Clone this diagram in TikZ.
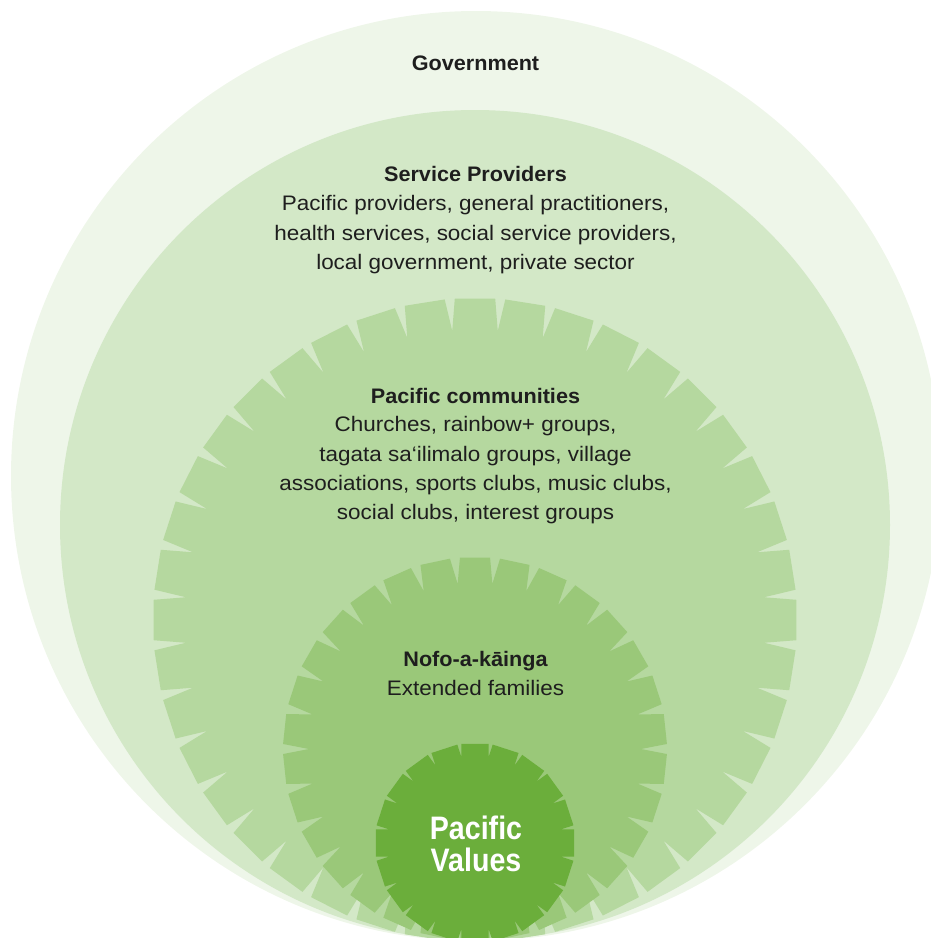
\documentclass[tikz,border=0pt]{standalone}
\usepackage{fontspec}
\setmainfont{Liberation Sans}
\newfontfamily\bodyfont{Liberation Sans}[FakeStretch=1.07]
\newfontfamily\headfont{Liberation Sans}[FakeStretch=1.03]
\newfontfamily\valfont{Liberation Sans}[FakeStretch=0.88]
\definecolor{govc}{HTML}{EEF6E9}
\definecolor{svcc}{HTML}{D3E8C7}
\definecolor{comc}{HTML}{B5D89F}
\definecolor{nofc}{HTML}{9AC879}
\definecolor{valc}{HTML}{6BAE3B}
\definecolor{inkc}{HTML}{1E1E1E}
\tikzset{
  bodytext/.style={font=\bodyfont\fontsize{21pt}{25pt}\selectfont, text=inkc, anchor=base, inner sep=0pt},
  headtext/.style={font=\headfont\bfseries\fontsize{21pt}{25pt}\selectfont, text=inkc, anchor=base, inner sep=0pt},
  valtext/.style={font=\valfont\bfseries\fontsize{32.5pt}{31pt}\selectfont, text=white, anchor=base, inner sep=0pt},
}
% #1 colour, #2 cx, #3 cy, #4 teeth, #5 outer radius, #6 inner radius, #7 notch half-angle
\newcommand{\gearshape}[7]{%
  \pgfmathsetmacro{\gP}{360/#4}%
  \pgfmathsetmacro{\gH}{\gP/2-#7}%
  \pgfmathtruncatemacro{\gN}{#4-1}%
  \fill[#1, shift={(#2,#3)}] (90-\gH:#5)
    \foreach \k in {0,...,\gN}{ -- ({90+\k*\gP-\gH}:#5) -- ({90+\k*\gP+\gH}:#5) -- ({90+\k*\gP+\gP/2}:#6) } -- cycle;
}
\begin{document}
\begin{tikzpicture}[x=1pt,y=-1pt]
\useasboundingbox (0,0) rectangle (931,938);
\begin{scope}
  \clip (0,0) rectangle (931,938);
  \fill[govc] (476,476) circle[radius=465pt];
  \fill[svcc] (475,525) circle[radius=415pt];
  \clip (476,476) circle[radius=465pt];
  \gearshape{comc}{475}{620}{40}{322pt}{290pt}{0.9}
  \gearshape{nofc}{475}{749}{30}{192pt}{166pt}{1.5}
  \gearshape{valc}{475}{843}{20}{100pt}{87pt}{1.2}
\end{scope}

\node[headtext] (gov) at (475.5,70.7) {Government};

\node[headtext] (svh) at (475.5,181.7) {Service Providers};
\node[bodytext] (sv1) at (475.5,210.7) {Pacific providers, general practitioners,};
\node[bodytext] (sv2) at (475.5,240.0) {health services, social service providers,};
\node[bodytext] (sv3) at (475.5,269.3) {local government, private sector};

\node[headtext] (cmh) at (475.5,403.3) {Pacific communities};
\node[bodytext] (cm1) at (475.5,431.9) {Churches, rainbow+ groups,};
\node[bodytext] (cm2) at (475.5,461.3) {tagata sa‘ilimalo groups, village};
\node[bodytext] (cm3) at (475.5,490.6) {associations, sports clubs, music clubs,};
\node[bodytext] (cm4) at (475.5,519.6) {social clubs, interest groups};

\node[headtext] (nfh) at (475.5,666.7) {Nofo-a-kāinga};
\node[bodytext] (nf1) at (475.5,695.7) {Extended families};

\node[valtext] (pv1) at (476,839.5) {Pacific};
\node[valtext] (pv2) at (476,871) {Values};
\end{tikzpicture}
\end{document}
